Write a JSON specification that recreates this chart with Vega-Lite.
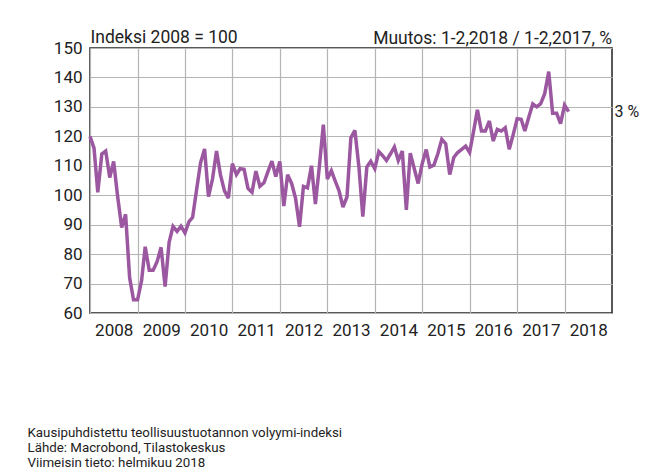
{
  "$schema": "https://vega.github.io/schema/vega-lite/v6.json",
  "width": 522,
  "height": 265,
  "autosize": "none",
  "padding": {"left": 90, "top": 48, "right": 52, "bottom": 163},
  "background": "white",
  "config": {
    "font": "Roboto, sans-serif",
    "view": {"stroke": "#222222", "strokeWidth": 1.5},
    "axis": {"labelColor": "#222222", "titleColor": "#222222", "gridColor": "#b4b4b4", "gridWidth": 1.2, "ticks": false, "domain": false, "labelFontSize": 17, "labelFont": "Roboto, sans-serif", "titleFont": "Roboto, sans-serif"}
  },
  "title": {
    "text": "Muutos: 1-2,2018 / 1-2,2017, %",
    "anchor": "end",
    "frame": "group",
    "font": "Roboto, sans-serif",
    "fontSize": 17.5,
    "fontWeight": "normal",
    "color": "#222222",
    "baseline": "alphabetic",
    "offset": 6,
    "dy": 39
  },
  "data": {"values": [
      {"d": "2008-01-01", "v": 120}, {"d": "2008-02-01", "v": 116}, {"d": "2008-03-01", "v": 101}, {"d": "2008-04-01", "v": 114}, {"d": "2008-05-01", "v": 115}, {"d": "2008-06-01", "v": 106}, {"d": "2008-07-01", "v": 111.5}, {"d": "2008-08-01", "v": 99.5}, {"d": "2008-09-01", "v": 89}, {"d": "2008-10-01", "v": 93.5}, {"d": "2008-11-01", "v": 72}, {"d": "2008-12-01", "v": 64.5},
      {"d": "2009-01-01", "v": 64.5}, {"d": "2009-02-01", "v": 71}, {"d": "2009-03-01", "v": 82.5}, {"d": "2009-04-01", "v": 74.5}, {"d": "2009-05-01", "v": 74.5}, {"d": "2009-06-01", "v": 77.5}, {"d": "2009-07-01", "v": 82.3}, {"d": "2009-08-01", "v": 69}, {"d": "2009-09-01", "v": 84}, {"d": "2009-10-01", "v": 89.4}, {"d": "2009-11-01", "v": 87.7}, {"d": "2009-12-01", "v": 89.5},
      {"d": "2010-01-01", "v": 87.2}, {"d": "2010-02-01", "v": 91}, {"d": "2010-03-01", "v": 92.5}, {"d": "2010-04-01", "v": 102}, {"d": "2010-05-01", "v": 111}, {"d": "2010-06-01", "v": 115.7}, {"d": "2010-07-01", "v": 99.5}, {"d": "2010-08-01", "v": 105.5}, {"d": "2010-09-01", "v": 115}, {"d": "2010-10-01", "v": 107}, {"d": "2010-11-01", "v": 101.5}, {"d": "2010-12-01", "v": 99},
      {"d": "2011-01-01", "v": 110.7}, {"d": "2011-02-01", "v": 107}, {"d": "2011-03-01", "v": 109}, {"d": "2011-04-01", "v": 108.8}, {"d": "2011-05-01", "v": 102.3}, {"d": "2011-06-01", "v": 101}, {"d": "2011-07-01", "v": 108.2}, {"d": "2011-08-01", "v": 103}, {"d": "2011-09-01", "v": 104.2}, {"d": "2011-10-01", "v": 107.9}, {"d": "2011-11-01", "v": 111.6}, {"d": "2011-12-01", "v": 106.3},
      {"d": "2012-01-01", "v": 111.5}, {"d": "2012-02-01", "v": 96.3}, {"d": "2012-03-01", "v": 107}, {"d": "2012-04-01", "v": 104}, {"d": "2012-05-01", "v": 99}, {"d": "2012-06-01", "v": 89.3}, {"d": "2012-07-01", "v": 103}, {"d": "2012-08-01", "v": 102.5}, {"d": "2012-09-01", "v": 110}, {"d": "2012-10-01", "v": 97}, {"d": "2012-11-01", "v": 110}, {"d": "2012-12-01", "v": 124},
      {"d": "2013-01-01", "v": 105.5}, {"d": "2013-02-01", "v": 108.3}, {"d": "2013-03-01", "v": 105}, {"d": "2013-04-01", "v": 101.5}, {"d": "2013-05-01", "v": 96}, {"d": "2013-06-01", "v": 99.4}, {"d": "2013-07-01", "v": 119.5}, {"d": "2013-08-01", "v": 122}, {"d": "2013-09-01", "v": 109.6}, {"d": "2013-10-01", "v": 92.7}, {"d": "2013-11-01", "v": 109.6}, {"d": "2013-12-01", "v": 111.5},
      {"d": "2014-01-01", "v": 109}, {"d": "2014-02-01", "v": 114.8}, {"d": "2014-03-01", "v": 113.5}, {"d": "2014-04-01", "v": 111.8}, {"d": "2014-05-01", "v": 114}, {"d": "2014-06-01", "v": 116.4}, {"d": "2014-07-01", "v": 111.8}, {"d": "2014-08-01", "v": 115}, {"d": "2014-09-01", "v": 95}, {"d": "2014-10-01", "v": 114.3}, {"d": "2014-11-01", "v": 109}, {"d": "2014-12-01", "v": 104},
      {"d": "2015-01-01", "v": 110.7}, {"d": "2015-02-01", "v": 115.5}, {"d": "2015-03-01", "v": 109.6}, {"d": "2015-04-01", "v": 110.2}, {"d": "2015-05-01", "v": 114}, {"d": "2015-06-01", "v": 119}, {"d": "2015-07-01", "v": 117.5}, {"d": "2015-08-01", "v": 107}, {"d": "2015-09-01", "v": 112.8}, {"d": "2015-10-01", "v": 114.5}, {"d": "2015-11-01", "v": 115.6}, {"d": "2015-12-01", "v": 116.7},
      {"d": "2016-01-01", "v": 114.5}, {"d": "2016-02-01", "v": 121.8}, {"d": "2016-03-01", "v": 129}, {"d": "2016-04-01", "v": 121.8}, {"d": "2016-05-01", "v": 121.8}, {"d": "2016-06-01", "v": 125.2}, {"d": "2016-07-01", "v": 118.4}, {"d": "2016-08-01", "v": 122.4}, {"d": "2016-09-01", "v": 121.8}, {"d": "2016-10-01", "v": 122.9}, {"d": "2016-11-01", "v": 115.6}, {"d": "2016-12-01", "v": 120.5},
      {"d": "2017-01-01", "v": 126}, {"d": "2017-02-01", "v": 125.8}, {"d": "2017-03-01", "v": 121.8}, {"d": "2017-04-01", "v": 126.6}, {"d": "2017-05-01", "v": 131}, {"d": "2017-06-01", "v": 130}, {"d": "2017-07-01", "v": 131.1}, {"d": "2017-08-01", "v": 134.5}, {"d": "2017-09-01", "v": 142}, {"d": "2017-10-01", "v": 127.8}, {"d": "2017-11-01", "v": 127.8}, {"d": "2017-12-01", "v": 124.3},
      {"d": "2018-01-01", "v": 130.6}, {"d": "2018-02-01", "v": 128.4, "label": "3 %"}
  ]},
  "encoding": {
    "x": {
      "field": "d", "type": "temporal",
      "scale": {"domain": ["2008-01-01", "2019-01-01"]},
      "axis": {
        "values": ["2008-01-01", "2009-01-01", "2010-01-01", "2011-01-01", "2012-01-01", "2013-01-01", "2014-01-01", "2015-01-01", "2016-01-01", "2017-01-01", "2018-01-01"],
        "format": "%Y",
        "labelOffset": 23.7,
        "labelFlush": false,
        "labelOverlap": false,
        "labelPadding": 9,
        "labelAlign": "center",
        "title": ["Kausipuhdistettu teollisuustuotannon volyymi-indeksi", "Lähde: Macrobond, Tilastokeskus", "Viimeisin tieto: helmikuu 2018"],
        "titleFontSize": 13.3,
        "titleFontWeight": "normal",
        "titleAnchor": "start",
        "titleAlign": "left",
        "titleBaseline": "alphabetic",
        "titleLineHeight": 15.3,
        "titleX": -63,
        "titleY": 123
      }
    },
    "y": {
      "field": "v", "type": "quantitative",
      "scale": {"domain": [60, 150], "nice": false, "zero": false},
      "axis": {
        "values": [60, 70, 80, 90, 100, 110, 120, 130, 140, 150],
        "labelOverlap": false,
        "labelPadding": 8,
        "title": "Indeksi 2008 = 100",
        "titleFontSize": 17.5,
        "titleFontWeight": "normal",
        "titleAngle": 0,
        "titleAlign": "left",
        "titleBaseline": "alphabetic",
        "titleX": 0,
        "titleY": -6
      }
    }
  },
  "layer": [
    {
      "mark": {"type": "line", "color": "#9b58a0", "strokeWidth": 3.5, "strokeJoin": "miter", "strokeMiterLimit": 3}
    },
    {
      "transform": [{"filter": "isValid(datum.label)"}],
      "mark": {"type": "text", "align": "left", "baseline": "middle", "dx": 46, "font": "Roboto, sans-serif", "fontSize": 16, "color": "#222222"},
      "encoding": {
        "text": {"field": "label"}
      }
    }
  ]
}
